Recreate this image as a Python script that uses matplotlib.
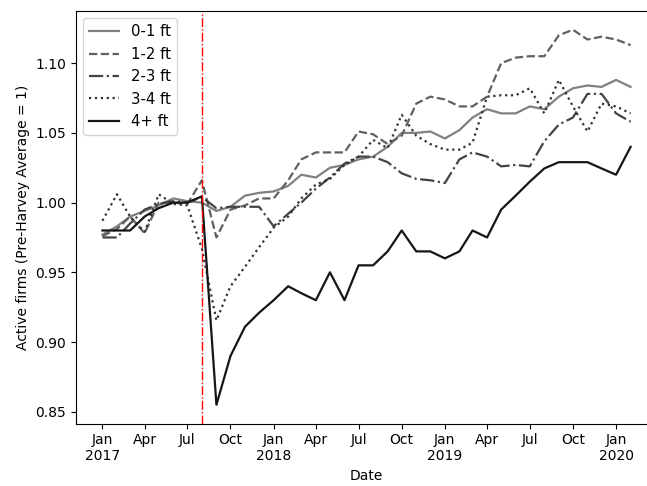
import datetime as dt
import matplotlib
matplotlib.use("Agg")
import matplotlib.pyplot as plt
import matplotlib.dates as mdates
from matplotlib.ticker import FuncFormatter

# monthly, Jan 2017 .. Feb 2020
months = [dt.date(2017 + (m // 12), m % 12 + 1, 1) for m in range(38)]
harvey = dt.date(2017, 8, 1)

ft_0_1 = [0.977, 0.983, 0.990, 0.994, 0.998, 1.003, 1.001, 1.000, 0.994, 0.997, 1.005, 1.007,
          1.008, 1.012, 1.020, 1.018, 1.025, 1.027, 1.031, 1.033, 1.040, 1.050, 1.050, 1.051,
          1.046, 1.052, 1.061, 1.067, 1.064, 1.064, 1.069, 1.067, 1.076, 1.082, 1.084, 1.083,
          1.088, 1.083]
ft_1_2 = [0.976, 0.981, 0.990, 0.978, 1.000, 1.000, 0.999, 1.016, 0.975, 0.995, 0.998, 1.003,
          1.003, 1.016, 1.031, 1.036, 1.036, 1.036, 1.051, 1.049, 1.042, 1.048, 1.071, 1.076,
          1.074, 1.069, 1.069, 1.076, 1.100, 1.104, 1.105, 1.105, 1.120, 1.124, 1.117, 1.119,
          1.117, 1.113]
ft_2_3 = [0.975, 0.975, 0.985, 0.995, 0.999, 1.001, 1.000, 1.004, 0.996, 0.997, 0.997, 0.997,
          0.983, 0.992, 1.000, 1.010, 1.018, 1.028, 1.033, 1.033, 1.029, 1.021, 1.017, 1.016,
          1.014, 1.031, 1.036, 1.033, 1.026, 1.027, 1.026, 1.044, 1.056, 1.061, 1.078, 1.078,
          1.064, 1.058]
ft_3_4 = [0.987, 1.006, 0.990, 0.979, 1.006, 0.999, 0.998, 0.967, 0.9155, 0.940, 0.954, 0.968,
          0.982, 0.990, 1.003, 1.013, 1.017, 1.027, 1.033, 1.045, 1.039, 1.063, 1.048, 1.042,
          1.038, 1.038, 1.043, 1.076, 1.077, 1.077, 1.082, 1.064, 1.088, 1.069, 1.051, 1.071,
          1.069, 1.064]
ft_4p = [0.980, 0.980, 0.980, 0.990, 0.996, 1.000, 1.000, 1.0045, 0.855, 0.890, 0.911, 0.921,
         0.930, 0.940, 0.935, 0.930, 0.950, 0.930, 0.955, 0.955, 0.965, 0.980, 0.965, 0.965,
         0.960, 0.965, 0.980, 0.975, 0.995, 1.005, 1.015, 1.0245, 1.029, 1.029, 1.029, 1.0245,
         1.020, 1.040]

fig = plt.figure(figsize=(6.47, 4.86), dpi=100)
ax = fig.add_axes([0.1175, 0.1286, 0.898, 0.8488])

ax.plot(months, ft_0_1, color="#808080", linestyle="-", lw=1.6, label="0-1 ft")
ax.plot(months, ft_1_2, color="#606060", linestyle="--", lw=1.6, label="1-2 ft")
ax.plot(months, ft_2_3, color="#444444", linestyle="-.", lw=1.6, label="2-3 ft")
ax.plot(months, ft_3_4, color="#333333", linestyle=":", lw=1.6, label="3-4 ft")
ax.plot(months, ft_4p, color="#151515", linestyle="-", lw=1.6, label="4+ ft")
ax.axvline(harvey, color="red", linestyle="-.", lw=1)

ax.xaxis.set_major_locator(mdates.MonthLocator(bymonth=[1, 4, 7, 10]))
def fmtDate(x, pos):
	d = mdates.num2date(x)
	if d.month == 1:
		return d.strftime("%b\n%Y")
	return d.strftime("%b")
ax.xaxis.set_major_formatter(FuncFormatter(fmtDate))

ax.set_xlabel("Date")
ax.set_ylabel("Active firms (Pre-Harvey Average = 1)")
ax.legend(loc="upper left", fontsize=10.7)

fig.savefig("out.png", dpi=100)
